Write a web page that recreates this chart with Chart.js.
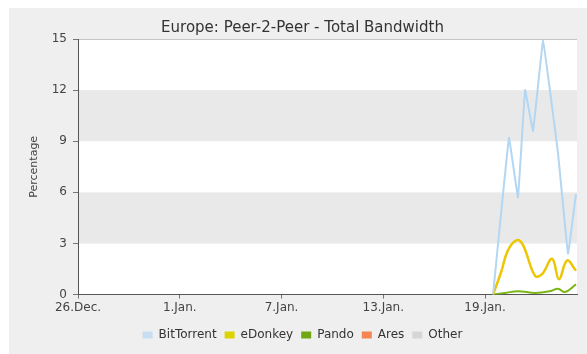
<!DOCTYPE html>
<html>
<head>
<meta charset="utf-8">
<script src="https://cdn.jsdelivr.net/npm/chart.js@4.4.1/dist/chart.umd.min.js"></script>
<style>
  html, body { margin: 0; padding: 0; background: #ffffff; }
  #wrap { width: 587px; height: 354px; }
</style>
</head>
<body>
<div id="wrap"><canvas id="chart" width="587" height="354"></canvas></div>
<script>
// Days counted from 26 December; ticks every 6 days
const tickDays   = [0, 6, 12, 18, 24];
const tickLabels = ['26.Dec.', '1.Jan.', '7.Jan.', '13.Jan.', '19.Jan.'];

// BitTorrent share of total bandwidth (%)
const bitTorrentDays   = [24.47, 25.41, 25.94, 26.36, 26.83, 27.42, 28.30, 28.89, 29.36];
const bitTorrentValues = [0, 9.2, 5.7, 12.0, 9.6, 14.9, 8.3, 2.4, 5.9];

// eDonkey share (%)
const eDonkeyDays   = [24.47, 24.94, 25.35, 25.88, 26.24, 26.95, 27.36, 27.95, 28.36, 28.83, 29.36];
const eDonkeyValues = [0, 1.3, 2.6, 3.2, 2.9, 1.1, 1.2, 2.1, 0.9, 2.0, 1.4];

// Pando share (%)
const pandoDays   = [24.47, 25.18, 25.94, 26.95, 27.83, 28.30, 28.71, 29.36];
const pandoValues = [0, 0.1, 0.2, 0.1, 0.2, 0.35, 0.15, 0.6];

// Ares and Other stay flat at zero over the period
const aresDays = [], aresValues = [];
const otherDays = [], otherValues = [];

const seriesNames = ['BitTorrent', 'eDonkey', 'Pando', 'Ares', 'Other'];
const yTicks = [0, 3, 6, 9, 12, 15];

function pairs(days, values) {
  return days.map((d, i) => ({ x: d, y: values[i] }));
}

const FONT = "'DejaVu Sans', sans-serif";

// Light grey frame, white plot area with alternating grey bands
const backdrop = {
  id: 'backdrop',
  beforeDraw(chart) {
    const { ctx, chartArea: a, scales: { y } } = chart;
    ctx.save();
    ctx.fillStyle = '#ffffff';
    ctx.fillRect(0, 0, chart.width, chart.height);
    ctx.fillStyle = '#efefef';
    ctx.fillRect(9, 8, chart.width - 9, chart.height - 8);
    ctx.fillStyle = '#ffffff';
    ctx.fillRect(a.left, a.top, a.right - a.left, a.bottom - a.top);
    ctx.fillStyle = '#e9e9e9';
    for (let i = 1; i < yTicks.length - 1; i += 2) {
      const top = y.getPixelForValue(yTicks[i + 1]);
      const bot = y.getPixelForValue(yTicks[i]);
      ctx.fillRect(a.left, top, a.right - a.left, bot - top);
    }
    ctx.restore();
  }
};

new Chart(document.getElementById('chart'), {
  type: 'line',
  data: {
    datasets: [
      { label: seriesNames[0], data: pairs(bitTorrentDays, bitTorrentValues),
        borderColor: '#b3d6f3', backgroundColor: '#c6def2', borderWidth: 2, tension: 0.05 },
      { label: seriesNames[1], data: pairs(eDonkeyDays, eDonkeyValues),
        borderColor: '#ecc600', backgroundColor: '#dcd400', borderWidth: 2.5, tension: 0.4 },
      { label: seriesNames[2], data: pairs(pandoDays, pandoValues),
        borderColor: '#7cb518', backgroundColor: '#6fa812', borderWidth: 2, tension: 0.4 },
      { label: seriesNames[3], data: pairs(aresDays, aresValues),
        borderColor: '#f58a52', backgroundColor: '#f58552', borderWidth: 2 },
      { label: seriesNames[4], data: pairs(otherDays, otherValues),
        borderColor: '#d2d2d2', backgroundColor: '#d6d6d6', borderWidth: 2 }
    ]
  },
  options: {
    responsive: false,
    animation: false,
    layout: { padding: { left: 28, right: 10, top: 0, bottom: 3 } },
    elements: { point: { radius: 0 } },
    plugins: {
      title: {
        display: true,
        text: 'Europe: Peer-2-Peer - Total Bandwidth',
        color: '#333333',
        font: { family: FONT, size: 15, weight: 'normal' },
        padding: { top: 19, bottom: 2 }
      },
      legend: {
        position: 'bottom',
        labels: {
          color: '#333333',
          font: { family: FONT, size: 12 },
          boxWidth: 10,
          boxHeight: 7,
          padding: 8,
          generateLabels(chart) {
            return chart.data.datasets.map((ds, i) => ({
              text: ds.label,
              fillStyle: ds.backgroundColor,
              strokeStyle: ds.backgroundColor,
              lineWidth: 0,
              fontColor: '#333333',
              datasetIndex: i
            }));
          }
        }
      },
      tooltip: { enabled: false }
    },
    scales: {
      x: {
        type: 'linear',
        min: 0,
        max: 29.42,
        afterBuildTicks(scale) {
          scale.ticks = tickDays.map(v => ({ value: v }));
        },
        afterFit(scale) { scale.height = scale.height + 4; },
        ticks: {
          color: '#444444',
          font: { family: FONT, size: 12 },
          maxRotation: 0,
          autoSkip: false,
          padding: 2,
          callback(value) {
            const i = tickDays.indexOf(value);
            return i >= 0 ? tickLabels[i] : '';
          }
        },
        grid: { color: 'rgba(0,0,0,0)', tickColor: '#777777', tickLength: 4 },
        border: { color: '#555555', width: 1 }
      },
      y: {
        min: 0,
        max: 15,
        afterBuildTicks(scale) {
          scale.ticks = yTicks.map(v => ({ value: v }));
        },
        afterFit(scale) { scale.width = 50; },
        title: {
          display: true,
          text: 'Percentage',
          color: '#444444',
          font: { family: FONT, size: 11 },
          padding: { top: 0, bottom: 8 }
        },
        ticks: {
          color: '#444444',
          font: { family: FONT, size: 12 },
          padding: 6
        },
        grid: {
          color: ctx => (ctx.tick && ctx.tick.value === 15 ? '#c4c4c4' : 'rgba(0,0,0,0)'),
          tickColor: '#777777',
          tickLength: 5
        },
        border: { color: '#555555', width: 1 }
      }
    }
  },
  plugins: [backdrop]
});
</script>
</body>
</html>
